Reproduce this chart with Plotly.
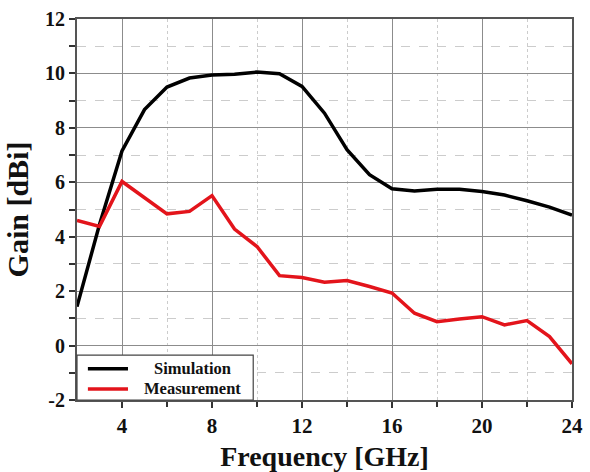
import plotly.graph_objects as go

# Frequency sweep (GHz) and gain values (dBi)
freq = [2, 3, 4, 5, 6, 7, 8, 9, 10, 11, 12, 13, 14, 15, 16, 17, 18, 19, 20, 21, 22, 23, 24]
sim_gain = [1.43, 4.45, 7.15, 8.67, 9.50, 9.83, 9.94, 9.97, 10.05, 9.99, 9.52, 8.54, 7.20,
            6.28, 5.76, 5.68, 5.74, 5.74, 5.66, 5.53, 5.32, 5.09, 4.79]
meas_gain = [4.60, 4.38, 6.03, 5.42, 4.84, 4.93, 5.51, 4.28, 3.64, 2.57, 2.50, 2.33, 2.39,
             2.17, 1.93, 1.19, 0.88, 0.98, 1.06, 0.76, 0.92, 0.33, -0.67]

series_names = ["Simulation", "Measurement"]
series_colors = ["#000000", "#e3141b"]

x_ticks = [4, 8, 12, 16, 20, 24]
y_ticks = [-2, 0, 2, 4, 6, 8, 10, 12]

FONT = "Liberation Serif"

fig = go.Figure()
for name, ys, col in zip(series_names, [sim_gain, meas_gain], series_colors):
    fig.add_trace(go.Scatter(x=freq, y=ys, mode="lines", name=name,
                             line=dict(color=col, width=3.5), showlegend=False))

major_grid = "#8c8c8c"
minor_grid = "#cccccc"
frame = "#555555"

fig.update_xaxes(
    range=[2, 24], tickvals=x_ticks, ticktext=[str(v) for v in x_ticks],
    showgrid=True, gridcolor=major_grid, gridwidth=1.3,
    ticks="outside", ticklen=6, tickwidth=1.5, tickcolor="#333",
    minor=dict(tickvals=[6, 10, 14, 18, 22], showgrid=True, gridcolor=minor_grid,
               griddash="dot", gridwidth=1, ticks="outside", ticklen=5, tickcolor="#333"),
    showline=True, linecolor=frame, linewidth=2, mirror=True, zeroline=False,
    tickfont=dict(family=FONT, size=21, color="#111", weight="bold"),
    automargin=False,
    title=dict(text="Frequency [GHz]", standoff=10,
               font=dict(family=FONT, size=28, color="#111", weight="bold")),
)
fig.update_yaxes(
    range=[-2, 12], tickvals=y_ticks, ticktext=[str(v) for v in y_ticks],
    showgrid=True, gridcolor=major_grid, gridwidth=1.3,
    ticks="outside", ticklen=6, tickwidth=1.5, tickcolor="#333",
    minor=dict(tickvals=[-1, 1, 3, 5, 7, 9, 11], showgrid=True, gridcolor=minor_grid,
               griddash="dash", gridwidth=1, ticks="outside", ticklen=6, tickcolor="#333"),
    showline=True, linecolor=frame, linewidth=2, mirror=True, zeroline=False,
    tickfont=dict(family=FONT, size=20, color="#111", weight="bold"),
    automargin=False,
    title=dict(text="Gain [dBi]", standoff=8,
               font=dict(family=FONT, size=30, color="#111", weight="bold")),
)

# Boxed legend in the lower-left corner of the plot area
box_x0, box_x1 = 0.0, 0.356
box_y0, box_y1 = 0.0, 0.118
fig.add_shape(type="rect", xref="paper", yref="paper", x0=box_x0, x1=box_x1,
              y0=box_y0, y1=box_y1, line=dict(color="#444", width=1.2),
              fillcolor="white", layer="above")
row_y = [0.082, 0.029]
for name, col, ry in zip(series_names, series_colors, row_y):
    fig.add_shape(type="line", xref="paper", yref="paper", x0=0.022, x1=0.103,
                  y0=ry, y1=ry, line=dict(color=col, width=3.5), layer="above")
    fig.add_annotation(xref="paper", yref="paper", x=0.233, y=ry, text=name,
                       showarrow=False, xanchor="center", yanchor="middle",
                       font=dict(family=FONT, size=16.5, color="#111", weight="bold"))

fig.update_layout(
    width=590, height=472,
    margin=dict(l=77, r=18, t=19, b=72),
    paper_bgcolor="white", plot_bgcolor="white",
    showlegend=False,
)

fig.write_html("out.html")
